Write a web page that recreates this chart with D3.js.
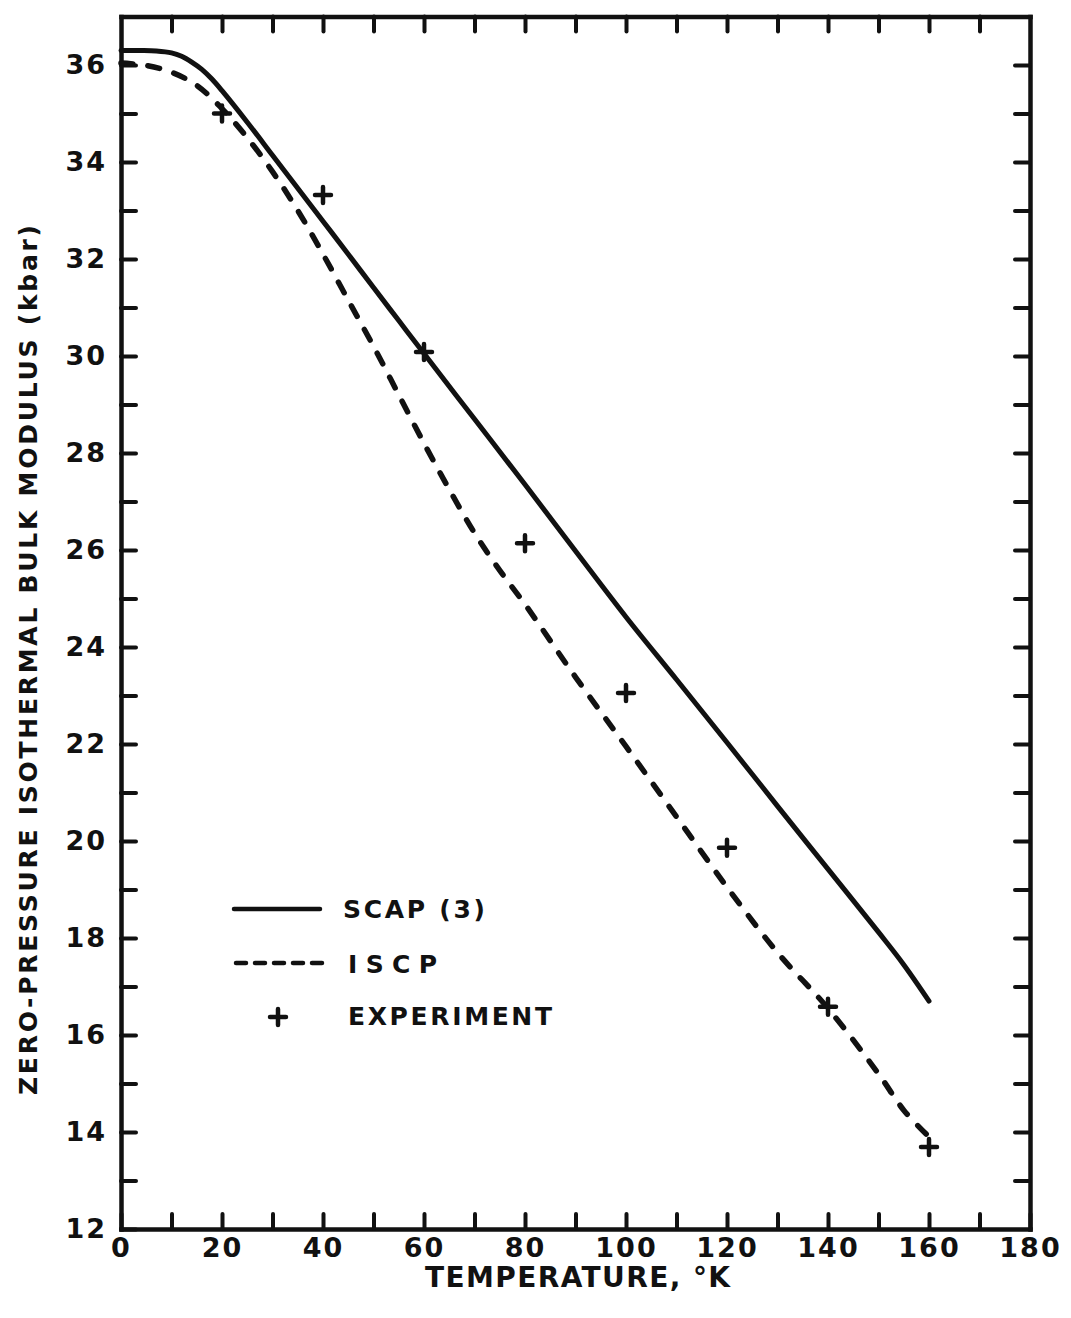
<!DOCTYPE html>
<html>
<head>
<meta charset="utf-8">
<script src="https://cdn.jsdelivr.net/npm/d3@7"></script>
<style>
body { margin: 0; background: #fff; }
text { font-family: "DejaVu Sans", sans-serif; font-weight: bold; fill: #111; }
</style>
</head>
<body>
<div id="chart"></div>
<script>
// SCAP(3) curve (solid)
var scapT = [0, 4, 7, 10, 12, 14, 16, 18, 20, 25, 30, 35, 40, 45, 50, 55, 60, 70, 80, 90, 100, 110, 120, 130, 140, 150, 155, 160];
var scapB = [36.3, 36.3, 36.29, 36.25, 36.18, 36.06, 35.91, 35.71, 35.47, 34.82, 34.14, 33.46, 32.78, 32.1, 31.41, 30.73, 30.05, 28.7, 27.35, 25.98, 24.62, 23.33, 22.03, 20.72, 19.42, 18.12, 17.45, 16.7];
// ISCP curve (dashed)
var iscpT = [0, 5, 10, 15, 20, 25, 30, 35, 40, 45, 50, 55, 60, 65, 70, 75, 80, 90, 100, 110, 120, 130, 140, 150, 155, 160];
var iscpB = [36.04, 35.99, 35.85, 35.58, 35.1, 34.5, 33.8, 33.0, 32.1, 31.15, 30.2, 29.2, 28.2, 27.25, 26.35, 25.58, 24.88, 23.38, 21.95, 20.5, 19.05, 17.7, 16.55, 15.2, 14.45, 13.9];
// experiment points (+)
var expT = [20, 40, 60, 80, 100, 120, 140, 160];
var expB = [35.0, 33.32, 30.08, 26.14, 23.05, 19.86, 16.58, 13.69];

var xTicks = d3.range(0, 181, 10);
var yTicks = d3.range(12, 37, 1);

var legendNames = ["SCAP (3)", "ISCP", "EXPERIMENT"];

var W = 1071, H = 1318;
var svg = d3.select("#chart").append("svg")
    .attr("width", W)
    .attr("height", H);

var xScale = d3.scaleLinear().domain([0, 180]).range([121, 1030]);
var yScale = d3.scaleLinear().domain([12, 37]).range([1229, 16.5]);

var ink = "#111";

// axes - ticks point inward
var bottomAxis = d3.axisBottom(xScale).tickValues(xTicks).tickSizeInner(-15).tickSizeOuter(0).tickPadding(9)
    .tickFormat(function(d){ return d % 20 === 0 ? d : ""; });
var topAxis = d3.axisTop(xScale).tickValues(xTicks.slice(1, -1)).tickSizeInner(-15).tickSizeOuter(0).tickFormat("");
var leftAxis = d3.axisLeft(yScale).tickValues(yTicks).tickSizeInner(-15).tickSizeOuter(0).tickPadding(14)
    .tickFormat(function(d){ return d % 2 === 0 ? d : ""; });
var rightAxis = d3.axisRight(yScale).tickValues(yTicks.slice(1)).tickSizeInner(-15).tickSizeOuter(0).tickFormat("");

function styleAxis(g) {
  g.select(".domain").attr("stroke", ink).attr("stroke-width", 4.5).attr("stroke-linecap", "square");
  g.selectAll(".tick line").attr("stroke", ink).attr("stroke-width", 4).attr("stroke-linecap", "round");
  g.selectAll(".tick text").attr("fill", ink)
    .style("font-family", "'DejaVu Sans', sans-serif").style("font-weight", "bold")
    .style("font-size", "27px").style("letter-spacing", "2px");
}

svg.append("g").attr("transform", "translate(0," + yScale(12) + ")").call(bottomAxis).call(styleAxis);
svg.append("g").attr("transform", "translate(0," + yScale(37) + ")").call(topAxis).call(styleAxis);
svg.append("g").attr("transform", "translate(" + xScale(0) + ",0)").call(leftAxis).call(styleAxis);
svg.append("g").attr("transform", "translate(" + xScale(180) + ",0)").call(rightAxis).call(styleAxis);

// curves
var line = d3.line()
    .x(function(d){ return xScale(d[0]); })
    .y(function(d){ return yScale(d[1]); })
    .curve(d3.curveCatmullRom.alpha(0.5));

svg.append("path")
    .datum(d3.zip(scapT, scapB))
    .attr("d", line)
    .attr("fill", "none")
    .attr("stroke", ink)
    .attr("stroke-width", 5)
    .attr("stroke-linecap", "round");

svg.append("path")
    .datum(d3.zip(iscpT, iscpB))
    .attr("d", line)
    .attr("fill", "none")
    .attr("stroke", ink)
    .attr("stroke-width", 5.5)
    .attr("stroke-linecap", "round")
    .attr("stroke-dasharray", "12,15");

// experiment plus marks
var arm = 8;
svg.selectAll(".exp")
    .data(d3.zip(expT, expB))
    .enter().append("path")
    .attr("class", "exp")
    .attr("d", function(d){
      var px = xScale(d[0]), py = yScale(d[1]);
      return "M" + (px - arm) + "," + py + "h" + (2 * arm) + "M" + px + "," + (py - arm) + "v" + (2 * arm);
    })
    .attr("stroke", ink)
    .attr("stroke-width", 4.5)
    .attr("stroke-linecap", "round");

// legend
var legend = svg.append("g");
legend.append("line").attr("x1", 234).attr("x2", 320).attr("y1", 909).attr("y2", 909)
    .attr("stroke", ink).attr("stroke-width", 4.5).attr("stroke-linecap", "round");
legend.append("line").attr("x1", 236).attr("x2", 322).attr("y1", 963).attr("y2", 963)
    .attr("stroke", ink).attr("stroke-width", 4.5).attr("stroke-linecap", "round")
    .attr("stroke-dasharray", "10,9");
legend.append("path").attr("d", "M270,1017h16M278,1009v16")
    .attr("stroke", ink).attr("stroke-width", 4.5).attr("stroke-linecap", "round");

legend.append("text").attr("x", 343).attr("y", 918).attr("font-size", 25)
    .attr("textLength", 142).attr("lengthAdjust", "spacing").text(legendNames[0]);
legend.append("text").attr("x", 348).attr("y", 973).attr("font-size", 25)
    .attr("textLength", 89).attr("lengthAdjust", "spacing").text(legendNames[1]);
legend.append("text").attr("x", 348).attr("y", 1025).attr("font-size", 25)
    .attr("textLength", 204).attr("lengthAdjust", "spacing").text(legendNames[2]);

// axis titles
svg.append("text")
    .attr("x", 425).attr("y", 1287)
    .attr("font-size", 28)
    .attr("textLength", 305).attr("lengthAdjust", "spacing")
    .text("TEMPERATURE, °K");

svg.append("text")
    .attr("transform", "translate(37,1095) rotate(-90)")
    .attr("font-size", 25)
    .attr("textLength", 870).attr("lengthAdjust", "spacing")
    .text("ZERO-PRESSURE ISOTHERMAL BULK MODULUS (kbar)");
</script>
</body>
</html>
